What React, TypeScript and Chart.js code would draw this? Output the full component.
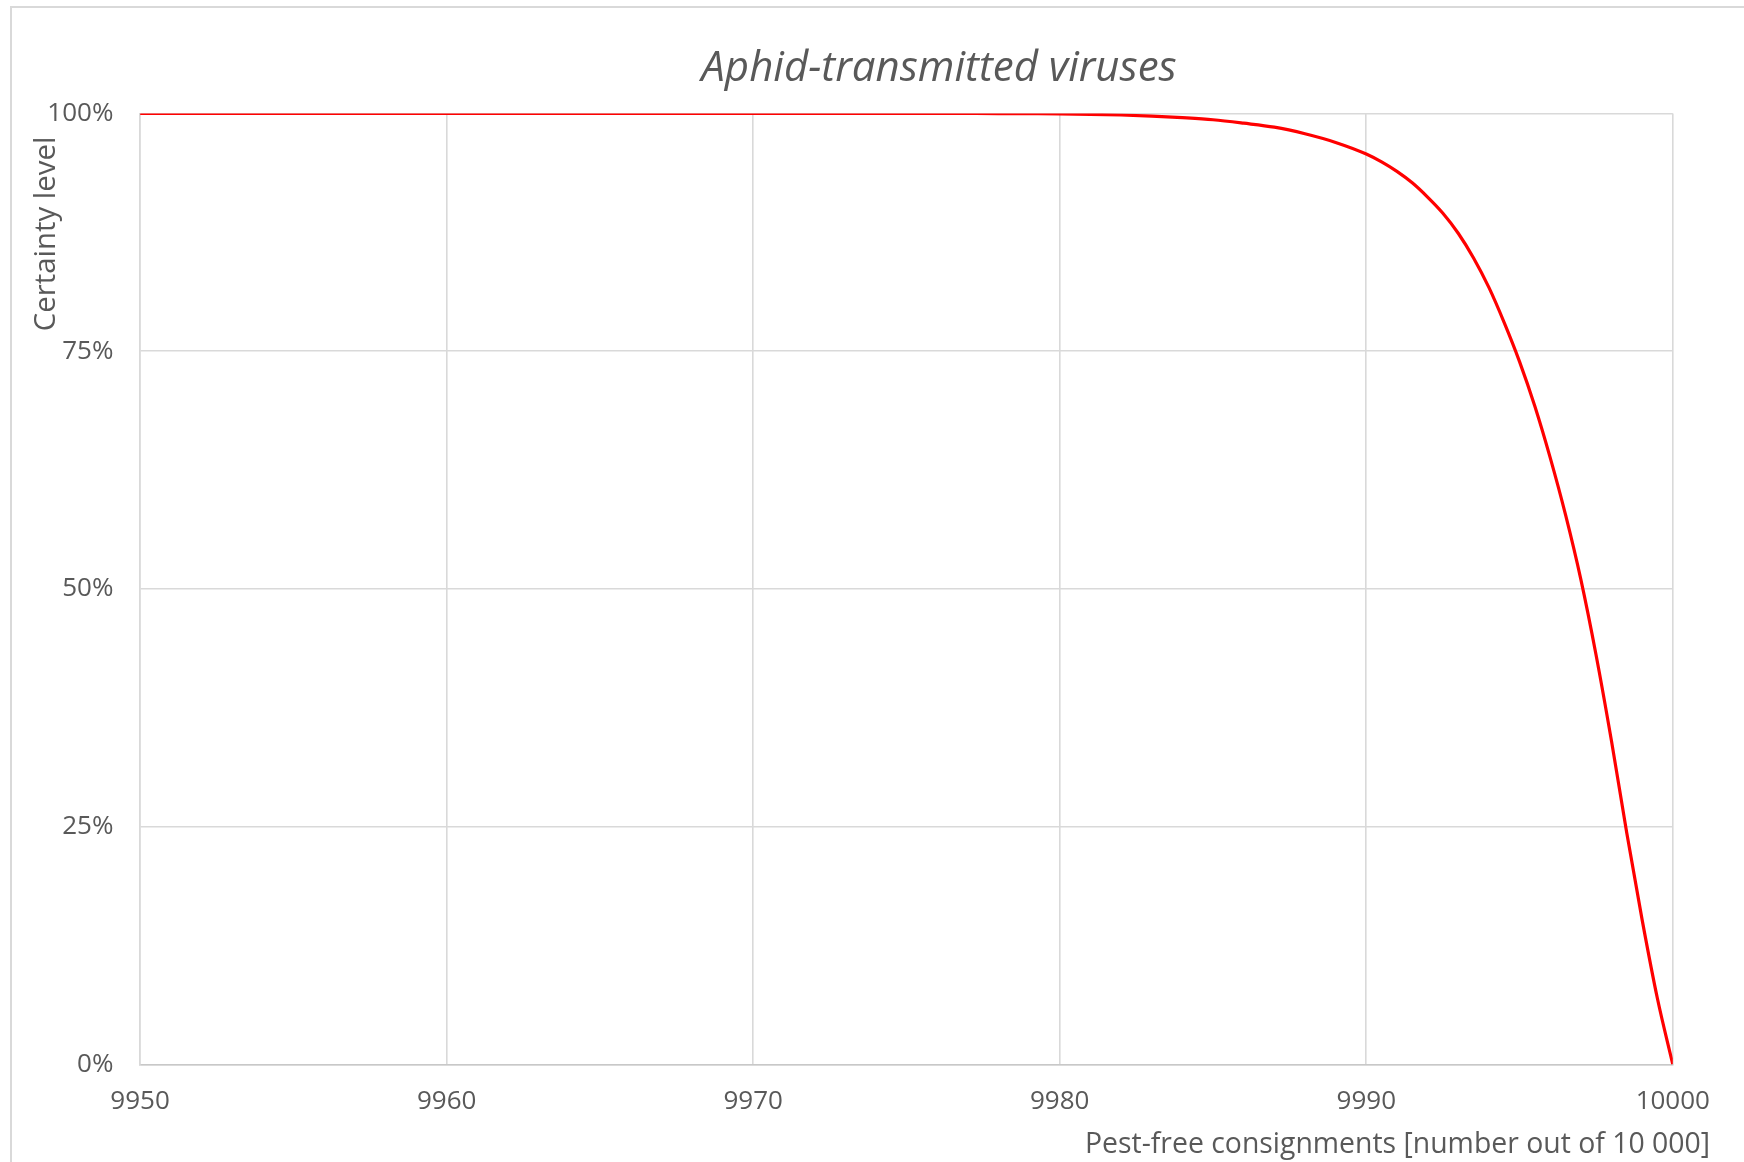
import React, { useEffect, useRef } from "react";
import { Chart, registerables } from "chart.js";

Chart.register(...registerables);

// ---- data ----
const chartTitle = "Aphid-transmitted viruses";
const xAxisTitle = "Pest-free consignments [number out of 10 000]";
const yAxisTitle = "Certainty level";

const consignments: number[] = [
  9950, 9955, 9960, 9965, 9970, 9975, 9977, 9978, 9979, 9980,
  9981, 9982, 9983, 9984, 9985, 9986, 9987, 9988, 9989, 9990,
  9990.5, 9991, 9991.5, 9992, 9992.5, 9993, 9993.5, 9994, 9994.5, 9995,
  9995.5, 9996, 9996.5, 9997, 9997.5, 9998, 9998.5, 9999, 9999.5, 10000,
];

const certaintyPct: number[] = [
  100, 100, 100, 100, 100, 100, 99.99, 99.98, 99.97, 99.95,
  99.9, 99.83, 99.72, 99.55, 99.33, 98.97, 98.55, 97.86, 96.95, 95.73,
  94.9, 93.9, 92.7, 91.2, 89.5, 87.4, 84.8, 81.7, 78.0, 73.9,
  69.2, 63.8, 57.8, 51.0, 43.0, 34.0, 24.3, 15.2, 6.9, 0,
];

const xMin = 9950;
const xMax = 10000;
const xStep = 10;
const yStep = 25;

const CW = 1744;
const CH = 1162;
const TEXT = "#595959";
const GRID = "#d9d9d9";

const decorPlugin = {
  id: "decor",
  beforeDraw(chart: any) {
    const ctx = chart.ctx;
    ctx.save();
    ctx.fillStyle = "#ffffff";
    ctx.fillRect(0, 0, chart.width, chart.height);
    ctx.strokeStyle = GRID;
    ctx.lineWidth = 2;
    ctx.strokeRect(11, 7, CW + 50, CH + 50);
    ctx.restore();
  },
  afterDraw(chart: any) {
    const ctx = chart.ctx;
    ctx.save();
    ctx.fillStyle = TEXT;
    // chart title
    ctx.font = 'italic 42px "Open Sans"';
    ctx.textAlign = "center";
    ctx.textBaseline = "alphabetic";
    ctx.fillText(chartTitle, 939, 81);
    // x axis title
    ctx.font = '28.4px "Open Sans"';
    ctx.textAlign = "right";
    ctx.fillText(xAxisTitle, 1710, 1153);
    // y axis title
    ctx.font = '29.4px "Open Sans"';
    ctx.translate(55, 234);
    ctx.rotate(-Math.PI / 2);
    ctx.textAlign = "center";
    ctx.fillText(yAxisTitle, 0, 0);
    ctx.restore();
  },
};

export default function App() {
  const canvasRef = useRef<HTMLCanvasElement | null>(null);

  useEffect(() => {
    if (!canvasRef.current) return;
    const points = consignments.map((x, i) => ({ x, y: certaintyPct[i] }));
    const chart = new Chart(canvasRef.current, {
      type: "line",
      data: {
        datasets: [
          {
            data: points,
            borderColor: "#ff0000",
            borderWidth: 3.2,
            pointRadius: 0,
            fill: false,
            cubicInterpolationMode: "monotone",
          },
        ],
      },
      options: {
        animation: false,
        responsive: false,
        devicePixelRatio: 1,
        layout: { padding: { left: 0, top: 113.4, right: 71.2, bottom: 0 } },
        plugins: {
          legend: { display: false },
          title: { display: false },
          tooltip: { enabled: false },
        },
        scales: {
          x: {
            type: "linear",
            min: xMin,
            max: xMax,
            afterFit: (s: any) => {
              s.height = CH - 1064.4;
            },
            ticks: {
              stepSize: xStep,
              color: TEXT,
              font: { family: "Open Sans", size: 26 },
              padding: 22,
              callback: (v: any) => String(v),
            },
            grid: { color: GRID, lineWidth: 1.6, drawTicks: false },
            border: { color: "#c8c8c8", width: 1.6 },
          },
          y: {
            type: "linear",
            min: 0,
            max: 100,
            afterFit: (s: any) => {
              s.width = 140.1;
            },
            ticks: {
              stepSize: yStep,
              color: TEXT,
              font: { family: "Open Sans", size: 26 },
              padding: 26.7,
              callback: (v: any) => v + "%",
            },
            grid: { color: GRID, lineWidth: 1.6, drawTicks: false },
            border: { color: GRID, width: 1.6 },
          },
        },
      },
      plugins: [decorPlugin],
    } as any);
    return () => chart.destroy();
  }, []);

  return (
    <div
      style={{
        position: "absolute",
        left: 0,
        top: 0,
        width: CW,
        height: CH,
        overflow: "hidden",
        background: "#fff",
      }}
    >
      <canvas
        ref={canvasRef}
        width={CW}
        height={CH}
        style={{ display: "block", width: CW, height: CH }}
      />
    </div>
  );
}
